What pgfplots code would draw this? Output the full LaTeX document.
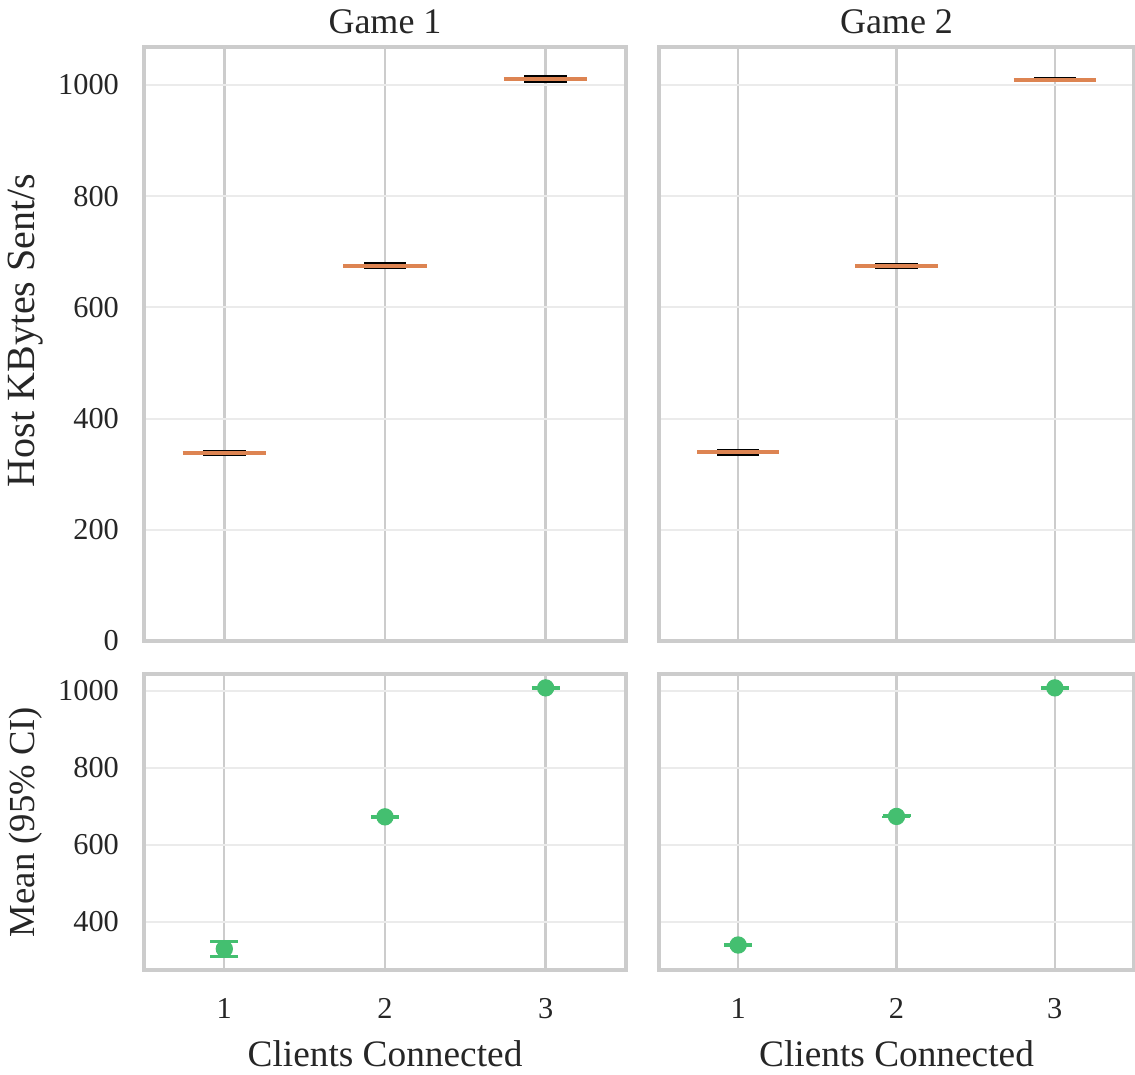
\documentclass[border=0pt]{standalone}
\usepackage{fontspec}
\setmainfont{Liberation Serif}
\usepackage{pgfplots}
\pgfplotsset{compat=1.18}
\definecolor{gridv}{HTML}{CCCCCC}
\definecolor{gridh}{HTML}{EBEBEB}
\definecolor{boxorange}{HTML}{DD8452}
\definecolor{ptgreen}{HTML}{44BF70}
\definecolor{txt}{HTML}{262626}
\pgfplotsset{
  myax/.style={
    scale only axis,
    xmin=0.5, xmax=3.5, xtick={1,2,3},
    axis line style={gridv, line width=1pt},
    major tick length=0pt, tick style={draw=none},
    xmajorgrids, ymajorgrids,
    x grid style={gridv, line width=0.7pt},
    y grid style={gridh, line width=0.6pt},
    ticklabel style={font=\fontsize{9.1}{11}\selectfont, text=txt},
    yticklabel style={xshift=-4pt},
    xticklabel style={anchor=base, yshift=-14.4pt},
    /pgf/number format/assume math mode=true,
    /pgf/number format/1000 sep={},
    every axis title/.style={at={(axis description cs:0.5,1)}, anchor=base, yshift=4.2pt, font=\fontsize{10.8}{13}\selectfont, text=txt},
    every axis y label/.style={at={(axis description cs:-0.245,0.5)}, rotate=90, anchor=center, font=\fontsize{11.4}{13}\selectfont, text=txt},
    every axis x label/.style={at={(axis description cs:0.5,0)}, anchor=base, yshift=-28.8pt, font=\fontsize{11.2}{13}\selectfont, text=txt},
  },
  topax/.style={myax, height=178.2pt, ymin=0, ymax=1068, ytick={0,200,400,600,800,1000}, xticklabels={}},
  botax/.style={myax, height=88.8pt, ymin=275, ymax=1044, ytick={400,600,800,1000}, xticklabels={1,2,3}, xlabel={Clients Connected}},
  boxst/.style={draw=black, fill=black!65, line width=0.6pt, forget plot},
  medline/.style={boxorange, line width=1.2pt, forget plot},
  ciplot/.style={only marks, mark=*, mark size=2.4pt, color=ptgreen, mark options={fill=ptgreen, draw=ptgreen},
    error bars/.cd, y dir=both, y explicit,
    error bar style={line width=0.75pt, ptgreen},
    error mark options={ptgreen, rotate=90, mark size=4.2pt, line width=0.75pt}},
}
\begin{document}
\begin{tikzpicture}
\useasboundingbox (0,0) rectangle (340.5pt,-322.2pt);
% Top left
\begin{axis}[topax, width=144.6pt, at={(43.2pt,-14.1pt)}, anchor=north west,
  title={Game 1}, ylabel={Host KBytes Sent/s},
  ylabel style={at={(axis description cs:-0.245,0.523)}, font=\fontsize{12}{14}\selectfont}]
\addplot[boxst] coordinates {(0.8725,334) (1.1275,334) (1.1275,342) (0.8725,342)} -- cycle;
\addplot[boxst] coordinates {(1.8725,670) (2.1275,670) (2.1275,679) (1.8725,679)} -- cycle;
\addplot[boxst] coordinates {(2.8725,1005) (3.1275,1005) (3.1275,1016) (2.8725,1016)} -- cycle;
\addplot[medline] coordinates {(0.74,338) (1.26,338)};
\addplot[medline] coordinates {(1.74,675) (2.26,675)};
\addplot[medline] coordinates {(2.74,1010) (3.26,1010)};
\end{axis}
% Top right
\begin{axis}[topax, width=142.5pt, at={(197.7pt,-14.1pt)}, anchor=north west,
  title={Game 2}, yticklabels={}]
\addplot[boxst] coordinates {(0.8725,335) (1.1275,335) (1.1275,343) (0.8725,343)} -- cycle;
\addplot[boxst] coordinates {(1.8725,670) (2.1275,670) (2.1275,678) (1.8725,678)} -- cycle;
\addplot[boxst] coordinates {(2.8725,1006) (3.1275,1006) (3.1275,1013) (2.8725,1013)} -- cycle;
\addplot[medline] coordinates {(0.74,339) (1.26,339)};
\addplot[medline] coordinates {(1.74,674) (2.26,674)};
\addplot[medline] coordinates {(2.74,1009) (3.26,1009)};
\end{axis}
% Bottom left
\begin{axis}[botax, width=144.6pt, at={(43.2pt,-202.2pt)}, anchor=north west,
  ylabel={Mean (95\% CI)}, ylabel style={font=\fontsize{11}{13}\selectfont}]
\addplot[ciplot] coordinates {(1,330) +- (0,19.5) (2,673) +- (0,2) (3,1008) +- (0,2)};
\end{axis}
% Bottom right
\begin{axis}[botax, width=142.5pt, at={(197.7pt,-202.2pt)}, anchor=north west,
  yticklabels={}]
\addplot[ciplot] coordinates {(1,340) +- (0,3) (2,674) +- (0,2) (3,1008) +- (0,2)};
\end{axis}
\end{tikzpicture}
\end{document}
